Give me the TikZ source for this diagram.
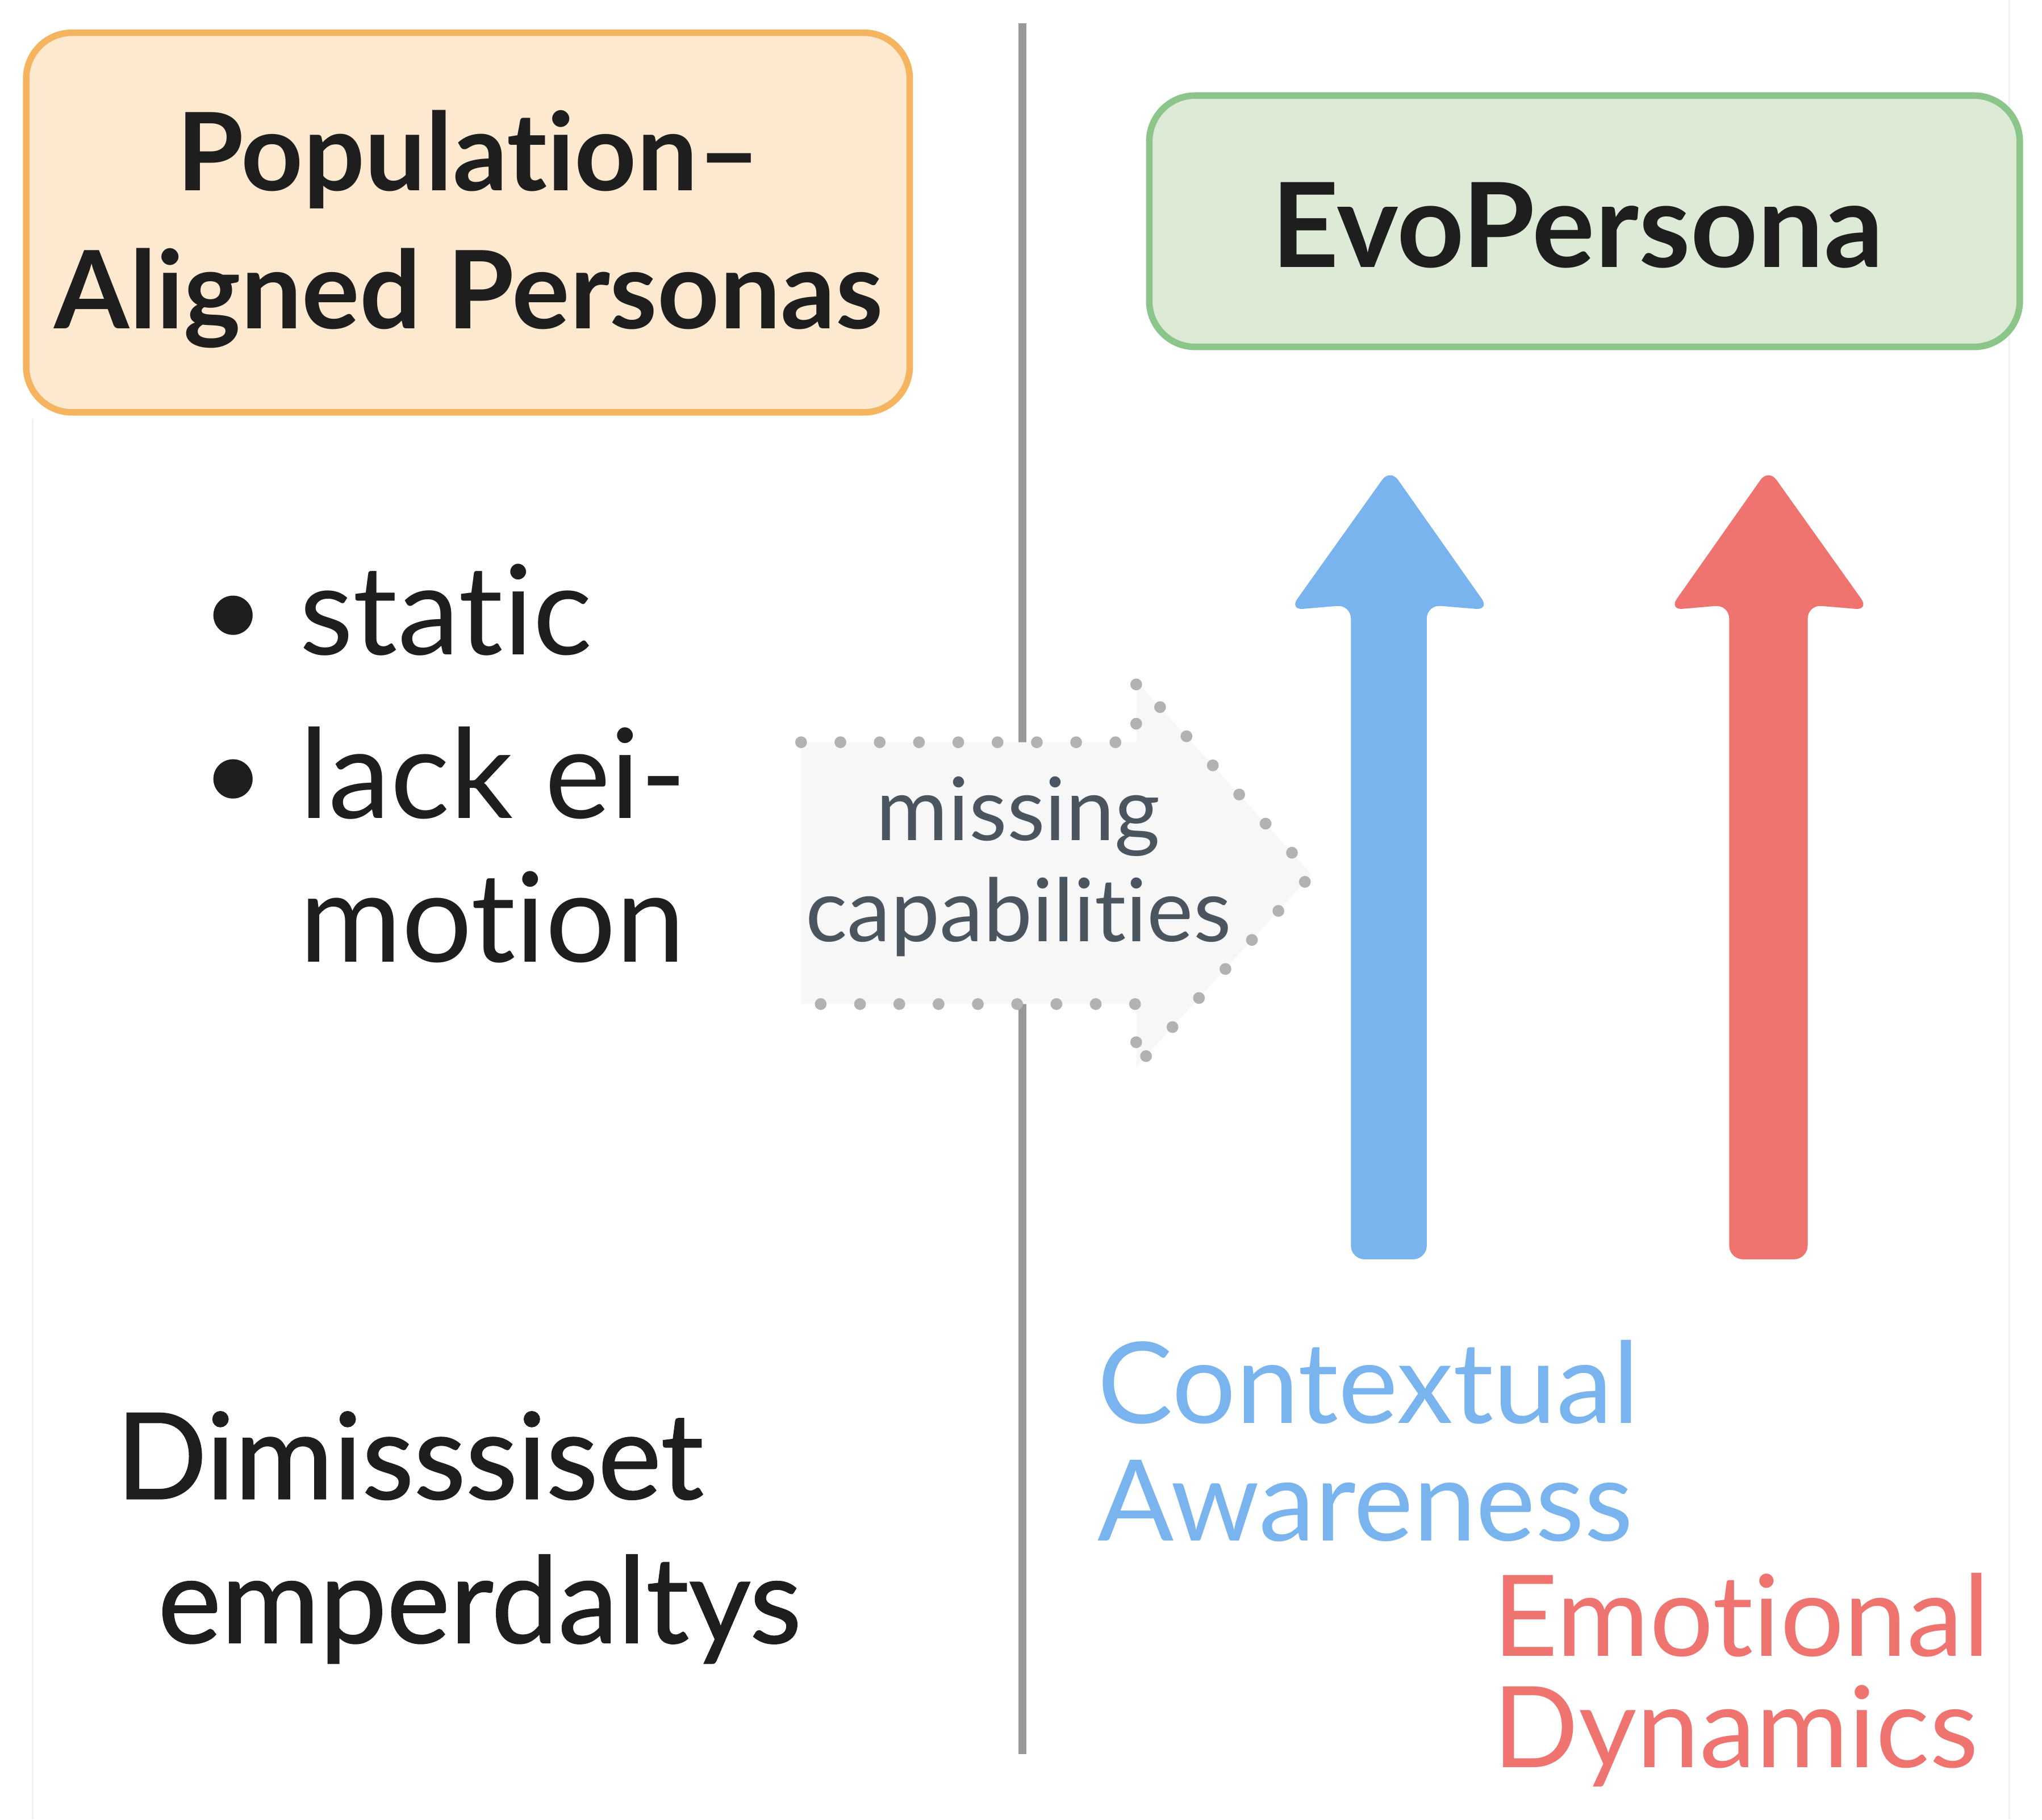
\documentclass[tikz,border=0pt]{standalone}
\usepackage{fontspec}
\setmainfont{Lato}[Ligatures={NoCommon}]
\usetikzlibrary{positioning}
\definecolor{obox}{HTML}{FDE9CF}\definecolor{oline}{HTML}{F5B560}
\definecolor{gbox}{HTML}{DDEBD6}\definecolor{gline}{HTML}{8CC58A}
\definecolor{blu}{HTML}{79B4EE}\definecolor{rd}{HTML}{EF736F}
\definecolor{dgray}{HTML}{4A5560}\definecolor{txt}{HTML}{1E1E1E}
\tikzset{
 box/.style={rounded corners=0.35cm,line width=0.05cm},
 big/.style={text=txt,align=center},
 lbl/.style={font=\fontsize{27}{29}\selectfont,anchor=base west,inner sep=0},
}
\begin{document}
\begin{tikzpicture}[x=0.01cm,y=-0.01cm]
\useasboundingbox (0,0) rectangle (1560,1390);
\draw[black!6,line width=0.3pt] (25,320) -- (25,1390) (1535,0) -- (1535,1390);
% orange box
\draw[box,draw=oline,fill=obox] (20,25) rectangle (695,315);
\node[big,font=\fontsize{23.5}{30}\selectfont\bfseries] (pop) at (358,175) {Population–\\Aligned Personas};
% divider
\draw[gray!80,line width=0.06cm] (781,18) -- (781,1340);
% green box
\draw[box,draw=gline,fill=gbox] (878,73) rectangle (1543,265);
\node[big,font=\fontsize{25.5}{30}\selectfont\bfseries] (evo) at (1205,172) {EvoPersona};
% bullets
\node[lbl,text=txt] (b1) at (228,500) {static};
\node[lbl,text=txt] (b2) at (228,625) {lack ei-};
\node[lbl,text=txt] (b3) at (228,735) {motion};
\fill[txt] (178,470) circle (15) (178,595) circle (15);
% dotted arrow
\draw[line width=0.09cm,gray!60,fill=black!3,line cap=round,dash pattern=on 0pt off 0.3cm]
 (612,567) -- (868,567) -- (868,520) -- (1002,668) -- (868,815) -- (868,767) -- (612,767);
\node[font=\fontsize{19}{22}\selectfont,text=dgray,align=center] (miss) at (778,662) {missing\\capabilities};
% arrows
\fill[blu,rounded corners=3pt] (1032,962) -- (1032,462) -- (985,466) -- (1062,358) -- (1138,466) -- (1090,462) -- (1090,962) -- cycle;
\fill[rd,rounded corners=3pt] (1321,962) -- (1321,462) -- (1275,466) -- (1351,358) -- (1428,466) -- (1381,462) -- (1381,962) -- cycle;
% labels
\node[lbl,font=\fontsize{24.5}{29}\selectfont,text=blu] (ca1) at (838,1087) {Contextual};
\node[lbl,font=\fontsize{24.5}{29}\selectfont,text=blu] (ca2) at (838,1177) {Awareness};
\node[lbl,font=\fontsize{24.5}{29}\selectfont,text=rd] (em1) at (1140,1265) {Emotional};
\node[lbl,font=\fontsize{24.5}{29}\selectfont,text=rd] (em2) at (1140,1350) {Dynamics};
\node[lbl,font=\fontsize{26}{30}\selectfont,text=txt] (d1) at (88,1145) {\addfontfeature{FakeBold=1}Dimisssiset};
\node[lbl,font=\fontsize{26}{30}\selectfont,text=txt] (d2) at (120,1255) {\addfontfeature{FakeBold=1}emperdaltys};
\end{tikzpicture}
\end{document}
